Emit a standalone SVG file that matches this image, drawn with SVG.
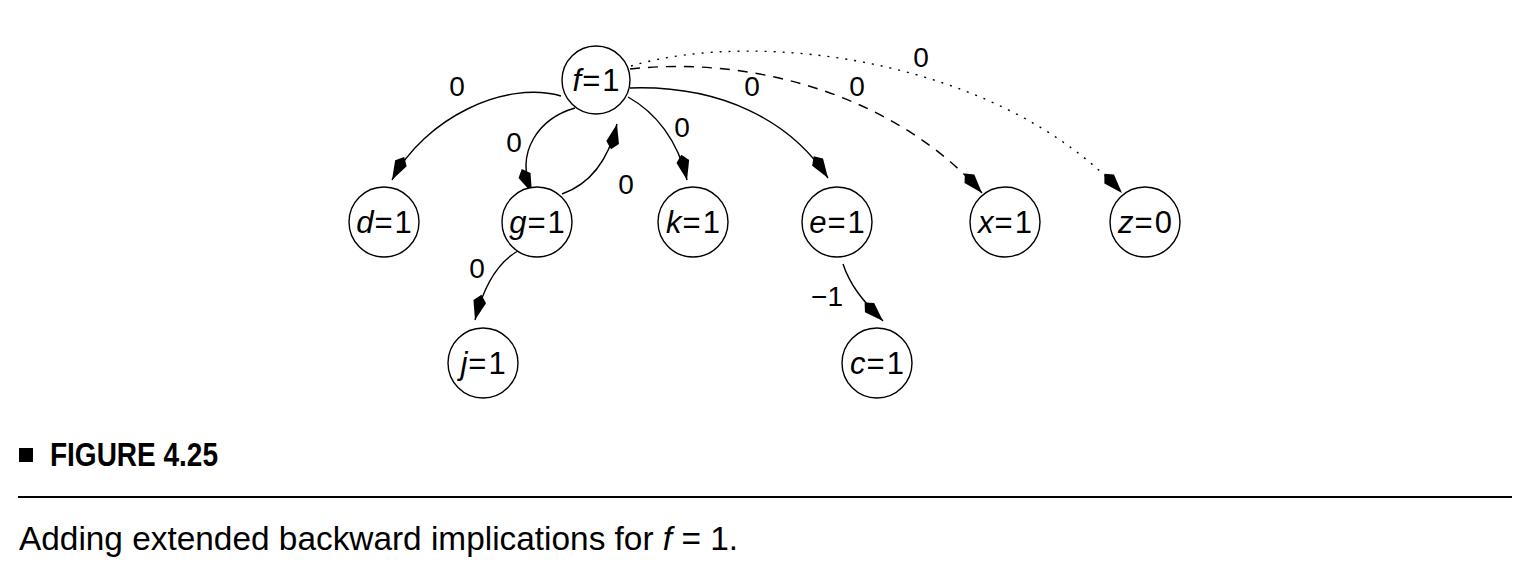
<svg xmlns="http://www.w3.org/2000/svg" width="1521" height="563" viewBox="0 0 1521 563">
<style>
.node{fill:#fff;stroke:#000;stroke-width:1.4}
.nt{font-family:"Liberation Sans",Arial,sans-serif;font-size:31px;text-anchor:middle;fill:#000}
.v{font-style:italic}
.lbl{font-family:"Liberation Sans",Arial,sans-serif;font-size:28px;text-anchor:middle;fill:#000}
.e{fill:none;stroke:#000;stroke-width:1.4;marker-end:url(#kite)}
.dash{stroke-dasharray:10 8}
.dot{stroke-dasharray:2 7}
.cap{font-family:"Liberation Sans Narrow","Liberation Sans",Arial,sans-serif;fill:#000}
</style>
<defs>
<marker id="kite" markerUnits="userSpaceOnUse" markerWidth="40" markerHeight="40" refX="0" refY="0" viewBox="-30 -15 40 30" orient="auto" overflow="visible">
<path d="M0,0 L-19,-6.5 L-26,0 L-19,6.5 Z" fill="#000"/>
</marker>
</defs>
<g id="connectors">
<path class="e" d="M561,96 C505,80 425,118 392,180"/>
<path class="e" d="M575,108 C540,118 514,151 532,193"/>
<path class="e" d="M562,194 C590,184 608,162 617,124"/>
<path class="e" d="M628,97 C655,112 678,140 687,180"/>
<path class="e" d="M630,88 C720,85 790,120 828,178"/>
<path class="e dash" d="M630,69 C760,55 900,100 982,193"/>
<path class="e dot" d="M631,66 C760,28 1000,60 1122,193"/>
<path class="e" d="M518,251 C498,262 484,285 475,320"/>
<path class="e" d="M843,264 C850,285 862,300 883,321"/>
</g>
<g id="labels">
<text class="lbl" x="457" y="96">0</text>
<text class="lbl" x="514" y="152">0</text>
<text class="lbl" x="626" y="194">0</text>
<text class="lbl" x="682" y="137">0</text>
<text class="lbl" x="752" y="96">0</text>
<text class="lbl" x="857" y="96">0</text>
<text class="lbl" x="921" y="67">0</text>
<text class="lbl" x="477" y="278">0</text>
<text class="lbl" x="827" y="306">−1</text>
</g>
<g id="node-f"><circle class="node" cx="596" cy="80" r="34"/><text class="nt" x="596" y="91"><tspan class="v">f</tspan><tspan dx="1">=</tspan><tspan dx="2">1</tspan></text></g>
<g id="node-d"><circle class="node" cx="384" cy="222" r="35"/><text class="nt" x="384" y="233"><tspan class="v">d</tspan><tspan dx="1">=</tspan><tspan dx="2">1</tspan></text></g>
<g id="node-g"><circle class="node" cx="537" cy="222" r="35"/><text class="nt" x="537" y="233"><tspan class="v">g</tspan><tspan dx="1">=</tspan><tspan dx="2">1</tspan></text></g>
<g id="node-k"><circle class="node" cx="693" cy="222" r="35"/><text class="nt" x="693" y="233"><tspan class="v">k</tspan><tspan dx="1">=</tspan><tspan dx="2">1</tspan></text></g>
<g id="node-e"><circle class="node" cx="837" cy="222" r="35"/><text class="nt" x="837" y="233"><tspan class="v">e</tspan><tspan dx="1">=</tspan><tspan dx="2">1</tspan></text></g>
<g id="node-x"><circle class="node" cx="1005" cy="222" r="35"/><text class="nt" x="1005" y="233"><tspan class="v">x</tspan><tspan dx="1">=</tspan><tspan dx="2">1</tspan></text></g>
<g id="node-z"><circle class="node" cx="1145" cy="222" r="35"/><text class="nt" x="1145" y="233"><tspan class="v">z</tspan><tspan dx="1">=</tspan><tspan dx="2">0</tspan></text></g>
<g id="node-j"><circle class="node" cx="483" cy="363" r="35"/><text class="nt" x="483" y="374"><tspan class="v">j</tspan><tspan dx="1">=</tspan><tspan dx="2">1</tspan></text></g>
<g id="node-c"><circle class="node" cx="877" cy="363" r="35"/><text class="nt" x="877" y="374"><tspan class="v">c</tspan><tspan dx="1">=</tspan><tspan dx="2">1</tspan></text></g>
<g id="caption">
<rect x="19" y="448" width="14" height="14" fill="#000"/>
<text class="cap" x="50" y="466" font-size="33" font-weight="bold" textLength="168" lengthAdjust="spacingAndGlyphs">FIGURE 4.25</text>
<line x1="18" y1="497" x2="1512" y2="497" stroke="#000" stroke-width="2"/>
<text class="cap" x="19" y="550" font-size="33" textLength="719" lengthAdjust="spacingAndGlyphs">Adding extended backward implications for <tspan font-style="italic">f</tspan> = 1.</text>
</g>
</svg>
